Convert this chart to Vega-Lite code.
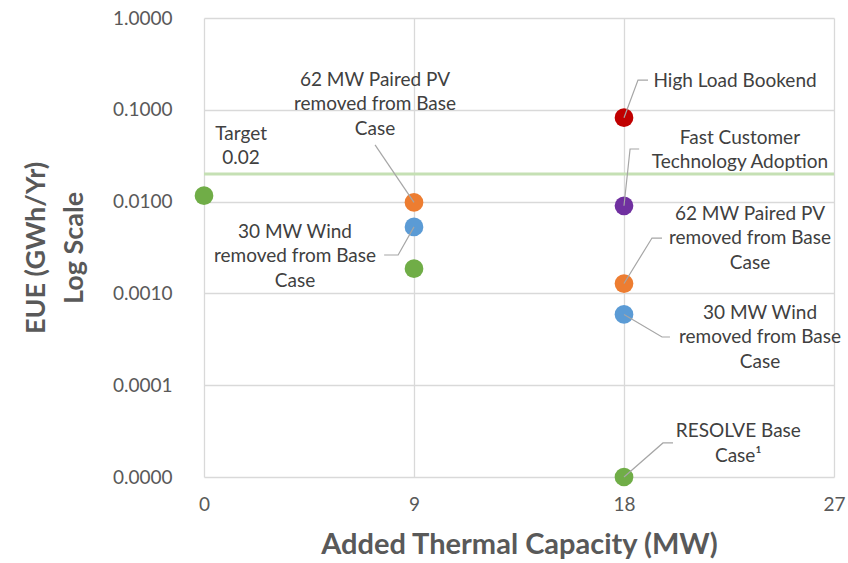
{
  "$schema": "https://vega.github.io/schema/vega-lite/v6.json",
  "width": 630,
  "height": 459,
  "autosize": {"type": "none"},
  "padding": {"left": 204, "top": 18, "right": 14, "bottom": 86},
  "background": "white",
  "config": {
    "view": {"stroke": null},
    "font": "Lato",
    "axis": {"domain": false, "ticks": false, "gridColor": "#d9d9d9", "gridWidth": 1.3, "labelFont": "Lato", "labelFontSize": 19, "labelColor": "#595959", "labelFlush": false, "titleFont": "Lato", "titleFontSize": 27, "titleFontWeight": "bold", "titleColor": "#595959"}
  },
  "datasets": {
    "points": [
      {"x": 0, "y": 0.0116, "series": "Base"},
      {"x": 9, "y": 0.0098, "series": "PV"},
      {"x": 9, "y": 0.0053, "series": "Wind"},
      {"x": 9, "y": 0.00186, "series": "Base"},
      {"x": 18, "y": 0.082, "series": "High Load"},
      {"x": 18, "y": 0.0090, "series": "Fast Customer"},
      {"x": 18, "y": 0.00128, "series": "PV"},
      {"x": 18, "y": 0.00059, "series": "Wind"},
      {"x": 18, "y": 0.00001, "series": "Base"}
    ],
    "labels": [
      {"text": "Target\n0.02", "x": 1.59, "y": 0.0545},
      {"text": "62 MW Paired PV\nremoved from Base\nCase", "x": 7.33, "y": 0.2112},
      {"text": "30 MW Wind\nremoved from Base\nCase", "x": 3.9, "y": 0.004666},
      {"text": "High Load Bookend", "x": 22.76, "y": 0.206},
      {"text": "Fast Customer\nTechnology Adoption", "x": 22.97, "y": 0.0493},
      {"text": "62 MW Paired PV\nremoved from Base\nCase", "x": 23.4, "y": 0.00733},
      {"text": "30 MW Wind\nremoved from Base\nCase", "x": 23.83, "y": 0.000612},
      {"text": "RESOLVE Base\nCase¹", "x": 22.9, "y": 0.0000317}
    ],
    "leaders": [
      {"id": 1, "o": 1, "x": 7.33, "y": 0.0414},
      {"id": 1, "o": 2, "x": 9, "y": 0.0098},
      {"id": 2, "o": 1, "x": 9, "y": 0.0053},
      {"id": 2, "o": 2, "x": 8.32, "y": 0.00262},
      {"id": 2, "o": 3, "x": 7.72, "y": 0.00262},
      {"id": 3, "o": 1, "x": 18, "y": 0.082},
      {"id": 3, "o": 2, "x": 18.6, "y": 0.211},
      {"id": 3, "o": 3, "x": 19.03, "y": 0.211},
      {"id": 4, "o": 1, "x": 18, "y": 0.009},
      {"id": 4, "o": 2, "x": 18.26, "y": 0.0374},
      {"id": 4, "o": 3, "x": 18.65, "y": 0.0374},
      {"id": 5, "o": 1, "x": 18, "y": 0.00128},
      {"id": 5, "o": 2, "x": 19.2, "y": 0.00401},
      {"id": 5, "o": 3, "x": 19.63, "y": 0.00401},
      {"id": 6, "o": 1, "x": 18, "y": 0.00059},
      {"id": 6, "o": 2, "x": 19.63, "y": 0.000335},
      {"id": 6, "o": 3, "x": 19.97, "y": 0.000335},
      {"id": 7, "o": 1, "x": 18, "y": 0.00001},
      {"id": 7, "o": 2, "x": 19.67, "y": 0.0000235},
      {"id": 7, "o": 3, "x": 20.1, "y": 0.0000235}
    ],
    "target": [{"y": 0.02}]
  },
  "layer": [
    {
      "data": {"name": "points"},
      "mark": {"type": "point", "opacity": 0},
      "encoding": {
        "x": {"field": "x", "type": "quantitative", "scale": {"domain": [0, 27], "nice": false, "zero": false}, "axis": {"values": [0, 9, 18, 27], "grid": true, "labelPadding": 18, "title": "Added Thermal Capacity (MW)", "titlePadding": 16, "titleFontSize": 29}},
        "y": {"field": "y", "type": "quantitative", "scale": {"type": "log", "domain": [0.00001, 1], "nice": false}, "axis": {"values": [0.00001, 0.0001, 0.001, 0.01, 0.1, 1], "format": ".4f", "grid": true, "labelPadding": 32, "title": ["EUE (GWh/Yr)", "Log Scale"], "titlePadding": 24, "titleLineHeight": 38}}
      }
    },
    {
      "data": {"name": "target"},
      "mark": {"type": "rule", "color": "#c5e0b4", "strokeWidth": 3},
      "encoding": {"y": {"field": "y", "type": "quantitative"}}
    },
    {
      "data": {"name": "points"},
      "mark": {"type": "circle", "size": 350, "opacity": 1},
      "encoding": {
        "x": {"field": "x", "type": "quantitative"},
        "y": {"field": "y", "type": "quantitative"},
        "color": {"field": "series", "type": "nominal", "scale": {"domain": ["Base", "PV", "Wind", "High Load", "Fast Customer"], "range": ["#70ad47", "#ed7d31", "#5b9bd5", "#c00000", "#7030a0"]}, "legend": null}
      }
    },
    {
      "data": {"name": "leaders"},
      "mark": {"type": "line", "color": "#a6a6a6", "strokeWidth": 1.2},
      "encoding": {
        "x": {"field": "x", "type": "quantitative"},
        "y": {"field": "y", "type": "quantitative"},
        "detail": {"field": "id", "type": "nominal"},
        "order": {"field": "o", "type": "quantitative"}
      }
    },
    {
      "data": {"name": "labels"},
      "mark": {"type": "text", "font": "Lato", "fontSize": 19, "color": "#404040", "align": "center", "baseline": "middle", "lineBreak": "\n", "lineHeight": 24.5},
      "encoding": {
        "x": {"field": "x", "type": "quantitative"},
        "y": {"field": "y", "type": "quantitative"},
        "text": {"field": "text", "type": "nominal"}
      }
    }
  ]
}
